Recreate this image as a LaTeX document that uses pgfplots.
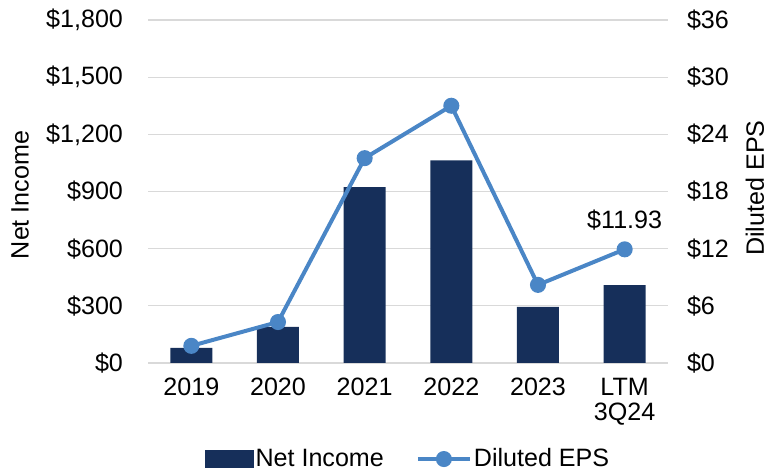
\documentclass[border=0pt]{standalone}
\usepackage{fontspec}
\setmainfont{Liberation Sans}
\usepackage{pgfplots}
\pgfplotsset{compat=1.18}
\definecolor{navy}{HTML}{162F5A}
\definecolor{epsblue}{HTML}{4A86C6}
\definecolor{gridgray}{HTML}{D9D9D9}

\pgfplotsset{
  common/.style={
    scale only axis, width=260bp, height=171.5bp,
    xmin=-0.5, xmax=5.5, ymin=0,
    axis line style={draw=none},
    major tick length=0,
    /pgf/number format/assume math mode=true,
  },
  barleg/.style={legend image code/.code={\fill[navy] (0,-4.25bp) rectangle (24bp,4.25bp);}},
  epsleg/.style={legend image code/.code={%
    \draw[epsblue, line width=2bp] (0,0) -- (26bp,0);
    \fill[epsblue] (13bp,0) circle (3bp);}},
}

\begin{document}
\begin{tikzpicture}[font=\fontsize{12.6}{12.5}\selectfont]
\useasboundingbox (-74bp,-54.5bp) rectangle (309.5bp,181.5bp);

% left axis: net income bars
\begin{axis}[common,
  ymax=1800,
  xtick={0,...,5},
  xticklabels={2019,2020,2021,2022,2023,{LTM\\3Q24}},
  xticklabel style={align=center, anchor=north, yshift=-4bp},
  ytick={0,300,...,1800},
  yticklabels={\$0,\$300,\$600,\$900,{\$1,200},{\$1,500},{\$1,800}},
  yticklabel style={anchor=east, xshift=-9bp},
  ymajorgrids, grid style={gridgray, line width=0.6bp},
  ylabel={Net Income},
  ylabel style={at={(axis description cs:-0.246,0.49)}, anchor=center},
]
\addplot[ybar, bar width=21bp, fill=navy, draw=none] coordinates {
  (0, 80) (1, 190) (2, 923) (3, 1063) (4, 295) (5, 409)
};
\end{axis}

% right axis: diluted EPS line
\begin{axis}[common,
  ymax=36,
  axis y line*=right,
  xtick=\empty,
  ytick={0,6,...,36},
  yticklabels={\$0,\$6,\$12,\$18,\$24,\$30,\$36},
  yticklabel style={anchor=west, xshift=6bp},
  ylabel={Diluted EPS},
  ylabel style={at={(axis description cs:1.167,0.51)}, anchor=center},
  legend columns=2,
  legend style={at={(0.5,-0.28)}, anchor=center, draw=none, fill=none,
    inner ysep=0pt, nodes={inner xsep=1bp, inner ysep=1bp},
    /tikz/every even column/.append style={column sep=15bp}},
]
\addlegendimage{barleg}
\addlegendentry{Net Income}
\addplot[epsblue, line width=2bp, mark=*, mark size=3bp, epsleg]
  coordinates {
  (0, 1.8) (1, 4.3) (2, 21.5) (3, 27.0) (4, 8.2) (5, 11.93)
};
\addlegendentry{Diluted EPS}
\node[above, yshift=6bp] at (axis cs:5,11.93) {\$11.93};
\end{axis}
\end{tikzpicture}
\end{document}
